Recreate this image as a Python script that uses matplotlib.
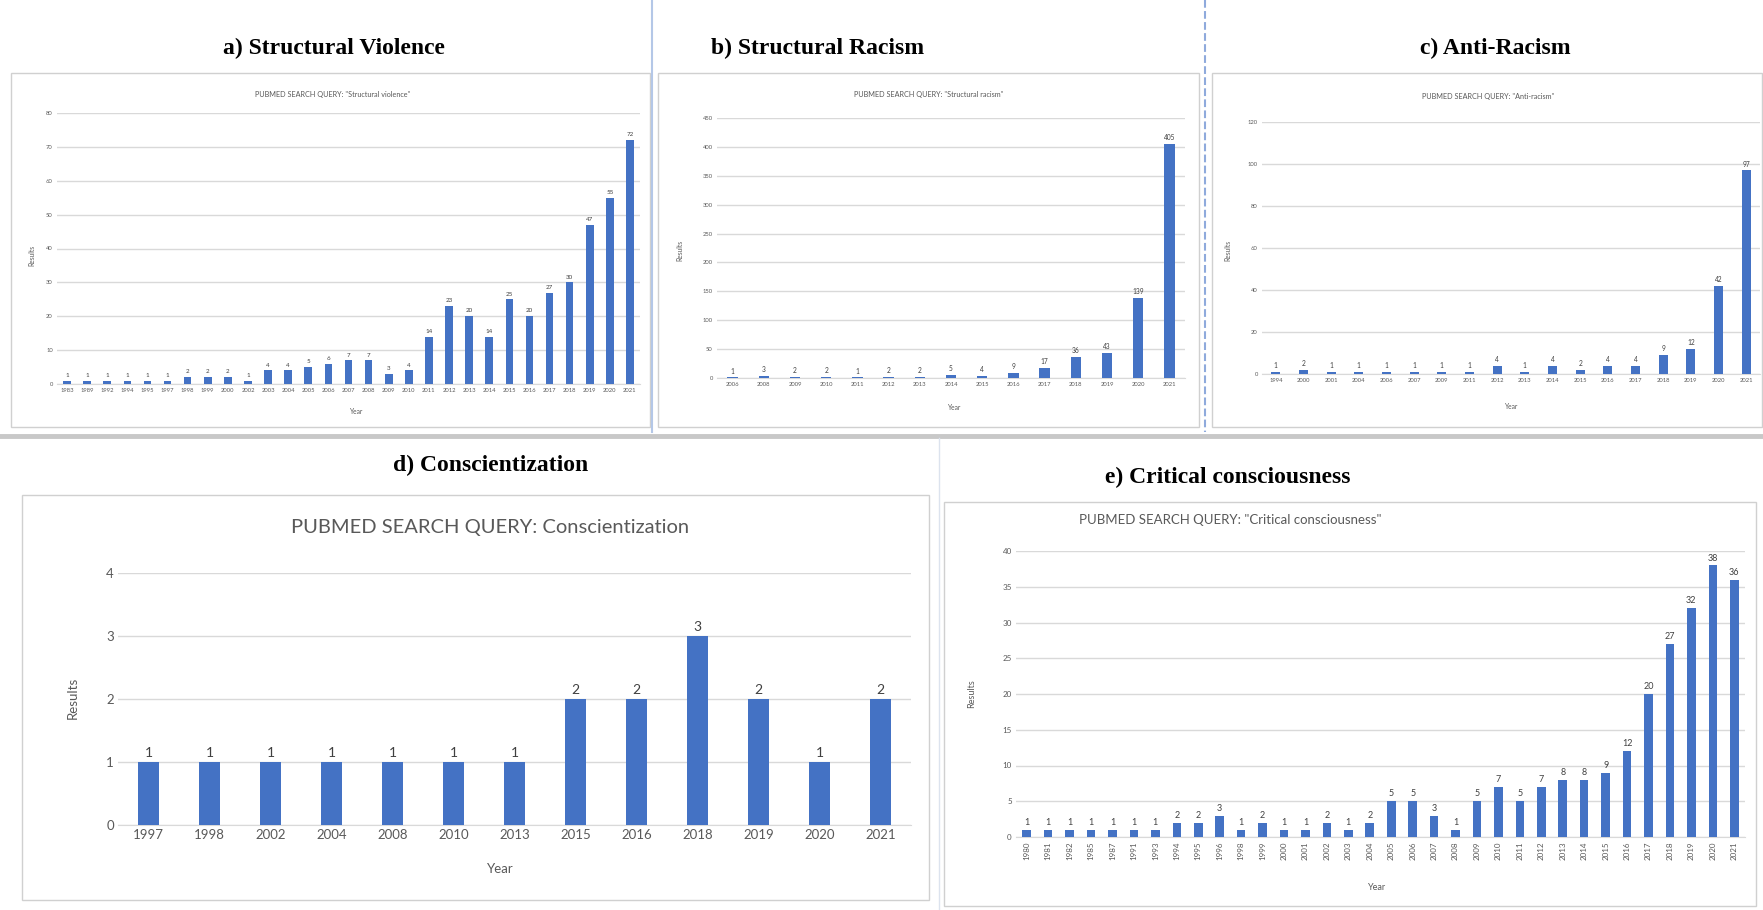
import matplotlib
matplotlib.use("Agg")
import matplotlib.pyplot as plt
from matplotlib.patches import Rectangle
from matplotlib.lines import Line2D

W, H = 1763, 910

# a) Structural violence
sv_years = ["1983", "1989", "1992", "1994", "1995", "1997", "1998", "1999", "2000", "2002",
            "2003", "2004", "2005", "2006", "2007", "2008", "2009", "2010", "2011", "2012",
            "2013", "2014", "2015", "2016", "2017", "2018", "2019", "2020", "2021"]
sv_vals = [1, 1, 1, 1, 1, 1, 2, 2, 2, 1, 4, 4, 5, 6, 7, 7, 3, 4, 14, 23,
           20, 14, 25, 20, 27, 30, 47, 55, 72]

# b) Structural racism
sr_years = ["2006", "2008", "2009", "2010", "2011", "2012", "2013", "2014", "2015", "2016",
            "2017", "2018", "2019", "2020", "2021"]
sr_vals = [1, 3, 2, 2, 1, 2, 2, 5, 4, 9, 17, 36, 43, 139, 405]

# c) Anti-racism
ar_years = ["1994", "2000", "2001", "2004", "2006", "2007", "2009", "2011", "2012", "2013",
            "2014", "2015", "2016", "2017", "2018", "2019", "2020", "2021"]
ar_vals = [1, 2, 1, 1, 1, 1, 1, 1, 4, 1, 4, 2, 4, 4, 9, 12, 42, 97]

# d) Conscientization
co_years = ["1997", "1998", "2002", "2004", "2008", "2010", "2013", "2015", "2016",
            "2018", "2019", "2020", "2021"]
co_vals = [1, 1, 1, 1, 1, 1, 1, 2, 2, 3, 2, 1, 2]

# e) Critical consciousness
cc_years = ["1980", "1981", "1982", "1985", "1987", "1991", "1993", "1994", "1995", "1996",
            "1998", "1999", "2000", "2001", "2002", "2003", "2004", "2005", "2006", "2007",
            "2008", "2009", "2010", "2011", "2012", "2013", "2014", "2015", "2016", "2017",
            "2018", "2019", "2020", "2021"]
cc_vals = [1, 1, 1, 1, 1, 1, 1, 2, 2, 3, 1, 2, 1, 1, 2, 1, 2, 5, 5, 3,
           1, 5, 7, 5, 7, 8, 8, 9, 12, 20, 27, 32, 38, 36]

BLUE = "#4472C4"
GRID = "#D9D9D9"
TXT = "#595959"
SANS = ["Lato", "DejaVu Sans"]
SERIF = ["Liberation Serif", "DejaVu Serif"]

fig = plt.figure(figsize=(W / 100, H / 100), dpi=100)


def fx(x):
    return x / W


def fy(y):
    return 1 - y / H


def box(x0, y0, x1, y1, color="#D0D0D0", lw=1.0):
    fig.add_artist(Rectangle((fx(x0), fy(y1)), (x1 - x0) / W, (y1 - y0) / H,
                             transform=fig.transFigure, fill=False,
                             edgecolor=color, linewidth=lw))


def line(x0, y0, x1, y1, color, lw, ls="-"):
    fig.add_artist(Line2D([fx(x0), fx(x1)], [fy(y0), fy(y1)], transform=fig.transFigure,
                          color=color, linewidth=lw, linestyle=ls))


def ftext(x, y, s, size, **kw):
    fig.text(fx(x), fy(y), s, fontsize=size, ha="center", va="center", **kw)


def panel(rect, years, vals, ymax, step, fs, vfs, width, rot=0):
    l, t, r, b = rect
    ax = fig.add_axes([fx(l), fy(b), (r - l) / W, (b - t) / H])
    x = range(len(vals))
    ax.bar(x, vals, width=width, color=BLUE, zorder=3)
    ax.set_xlim(-0.5, len(vals) - 0.5)
    ax.set_ylim(0, ymax)
    ax.set_yticks(range(0, ymax + 1, step))
    ax.set_xticks(list(x))
    ax.set_xticklabels(years, rotation=rot)
    ax.grid(axis="y", color=GRID, linewidth=1.0, zorder=0)
    for s in ["top", "right", "left"]:
        ax.spines[s].set_visible(False)
    ax.spines["bottom"].set_color(GRID)
    ax.tick_params(length=0, labelsize=fs, labelcolor=TXT, pad=3)
    for lab in ax.get_xticklabels() + ax.get_yticklabels():
        lab.set_family(SANS)
    for xi, v in zip(x, vals):
        ax.annotate(str(v), (xi, v), xytext=(0, 2), textcoords="offset points",
                    ha="center", va="bottom", fontsize=vfs, color="#404040",
                    family=SANS)
    return ax


# frames and separators
box(11, 73, 650, 427)
box(658, 73, 1199, 427)
box(1212, 73, 1762, 427)
box(22, 495, 929, 900)
box(944, 502, 1756, 906)
line(652, 0, 652, 432, "#B4C7E7", 1.5)
line(1205, 0, 1205, 432, "#8FAADC", 1.5, "--")
line(0, 436, W, 436, "#C8C8C8", 3.5)
line(939, 438, 939, 910, "#DCE3EE", 1.0)

# panel titles
TS = 17
ftext(334, 48, "a) Structural Violence", TS, family=SERIF, weight="bold")
ftext(818, 48, "b) Structural Racism", TS, family=SERIF, weight="bold")
ftext(1495, 48, "c) Anti-Racism", TS, family=SERIF, weight="bold")
ftext(491, 465, "d) Conscientization", TS, family=SERIF, weight="bold")
ftext(1228, 477, "e) Critical consciousness", TS, family=SERIF, weight="bold")

# a
panel((57, 113, 640, 384), sv_years, sv_vals, 80, 10, 4.2, 4.5, 0.38)
ftext(333, 95, 'PUBMED SEARCH QUERY: "Structural violence"', 5.2, color=TXT, family=SANS)
ftext(357, 412, "Year", 4.8, color=TXT, family=SANS)
ftext(32, 255, "Results", 4.8, color=TXT, family=SANS, rotation=90)

# b
panel((717, 118, 1185, 378), sr_years, sr_vals, 450, 50, 4.2, 4.8, 0.33)
ftext(929, 95, 'PUBMED SEARCH QUERY: "Structural racism"', 5.2, color=TXT, family=SANS)
ftext(955, 408, "Year", 4.8, color=TXT, family=SANS)
ftext(680, 250, "Results", 4.8, color=TXT, family=SANS, rotation=90)

# c
panel((1262, 122, 1760, 374), ar_years, ar_vals, 120, 20, 4.2, 4.8, 0.33)
ftext(1488, 96, 'PUBMED SEARCH QUERY: "Anti-racism"', 5.2, color=TXT, family=SANS)
ftext(1512, 407, "Year", 4.8, color=TXT, family=SANS)
ftext(1228, 250, "Results", 4.8, color=TXT, family=SANS, rotation=90)

# d
panel((118, 573, 911, 825), co_years, co_vals, 4, 1, 9.5, 10, 0.36)
ftext(490, 528, "PUBMED SEARCH QUERY: Conscientization", 14.5, color=TXT, family=SANS)
ftext(500, 869, "Year", 9.5, color=TXT, family=SANS)
ftext(73, 698, "Results", 9.5, color=TXT, family=SANS, rotation=90)

# e
panel((1016, 551, 1745, 837), cc_years, cc_vals, 40, 5, 5.8, 6.5, 0.4, rot=90)
ftext(1230, 520, 'PUBMED SEARCH QUERY: "Critical consciousness"', 9.5, color=TXT, family=SANS)
ftext(1377, 887, "Year", 6.5, color=TXT, family=SANS)
ftext(972, 694, "Results", 6.5, color=TXT, family=SANS, rotation=90)

fig.savefig("out.png", dpi=100, facecolor="white")
